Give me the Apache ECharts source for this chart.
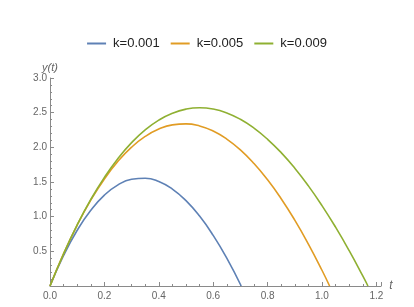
<!DOCTYPE html>
<html>
<head>
<meta charset="utf-8">
<script src="https://cdn.jsdelivr.net/npm/echarts@6/dist/echarts.min.js"></script>
<style>html,body{margin:0;padding:0;background:#fff;}#c{width:414px;height:307px;}</style>
</head>
<body>
<div id="c"></div>
<script>
var seriesNames = ['k=0.001', 'k=0.005', 'k=0.009'];
var tBlue = [0, 0.05, 0.1, 0.15, 0.2, 0.25, 0.3, 0.35, 0.4, 0.45, 0.5, 0.55, 0.6, 0.65, 0.703];
var yBlue = [0, 0.440, 0.804, 1.093, 1.311, 1.459, 1.539, 1.555, 1.507, 1.398, 1.231, 1.008, 0.730, 0.401, 0];
var tOrange = [0, 0.05, 0.1, 0.15, 0.2, 0.25, 0.3, 0.35, 0.4, 0.45, 0.5, 0.55, 0.6, 0.65, 0.7, 0.75, 0.8, 0.85, 0.9, 0.95, 1.0, 1.028];
var yOrange = [0, 0.467, 0.879, 1.238, 1.544, 1.798, 2.002, 2.157, 2.264, 2.324, 2.338, 2.308, 2.235, 2.119, 1.963, 1.766, 1.531, 1.259, 0.950, 0.605, 0.227, 0];
var tGreen = [0, 0.05, 0.1, 0.15, 0.2, 0.25, 0.3, 0.35, 0.4, 0.45, 0.5, 0.55, 0.6, 0.65, 0.7, 0.75, 0.8, 0.85, 0.9, 0.95, 1.0, 1.05, 1.1, 1.15, 1.169];
var yGreen = [0, 0.465, 0.881, 1.248, 1.567, 1.840, 2.068, 2.252, 2.393, 2.492, 2.551, 2.571, 2.552, 2.496, 2.404, 2.277, 2.116, 1.923, 1.699, 1.444, 1.160, 0.848, 0.510, 0.145, 0];
var colors = ['#5E81B5', '#E19C24', '#8FB032'];

function pairs(t, y) { return t.map(function (v, i) { return [v, y[i]]; }); }
var allData = [pairs(tBlue, yBlue), pairs(tOrange, yOrange), pairs(tGreen, yGreen)];

var chart = echarts.init(document.getElementById('c'), null, {renderer: 'canvas'});
var axisColor = '#8a8a8a';
var labelColor = '#666';
chart.setOption({
  animation: false,
  color: colors,
  textStyle: {fontFamily: 'Liberation Sans, Arial, sans-serif'},
  legend: {
    top: 32, left: 'center',
    icon: 'rect', itemWidth: 19, itemHeight: 2, itemGap: 11,
    textStyle: {fontSize: 13, color: '#222', padding: [0, 0, 0, 2], fontFamily: 'Liberation Sans, Arial, sans-serif'},
    data: seriesNames
  },
  grid: {left: 50, right: 33, top: 78, bottom: 21, containLabel: false},
  xAxis: {
    type: 'value', min: 0, max: 1.217, interval: 0.2,
    name: 't', nameLocation: 'end', nameGap: 8,
    nameTextStyle: {fontStyle: 'italic', color: labelColor, fontSize: 12, fontFamily: 'Liberation Sans, Arial, sans-serif'},
    axisLine: {show: true, onZero: false, lineStyle: {color: axisColor, width: 1}},
    axisTick: {show: true, inside: true, length: 4, lineStyle: {color: axisColor}},
    minorTick: {show: true, splitNumber: 4, length: 2, lineStyle: {color: axisColor}},
    axisLabel: {color: labelColor, fontSize: 10, margin: 5, showMaxLabel: false,
      formatter: function (v) { return v.toFixed(1); }},
    splitLine: {show: false}
  },
  yAxis: {
    type: 'value', min: 0, max: 3, interval: 0.5,
    name: 'y(t)', nameLocation: 'end', nameGap: 4,
    nameTextStyle: {fontStyle: 'italic', color: labelColor, fontSize: 11, fontFamily: 'Liberation Sans, Arial, sans-serif', align: 'center'},
    axisLine: {show: true, onZero: false, lineStyle: {color: axisColor, width: 1}},
    axisTick: {show: true, inside: true, length: 4, lineStyle: {color: axisColor}},
    minorTick: {show: true, splitNumber: 5, length: 2, lineStyle: {color: axisColor}},
    axisLabel: {color: labelColor, fontSize: 10, margin: 3, showMinLabel: false,
      formatter: function (v) { return v.toFixed(1); }},
    splitLine: {show: false}
  },
  series: seriesNames.map(function (n, i) {
    return {
      name: n, type: 'line', data: allData[i], smooth: true,
      symbol: 'none', showSymbol: false,
      lineStyle: {width: 1.6, color: colors[i]}
    };
  })
});
</script>
</body>
</html>
